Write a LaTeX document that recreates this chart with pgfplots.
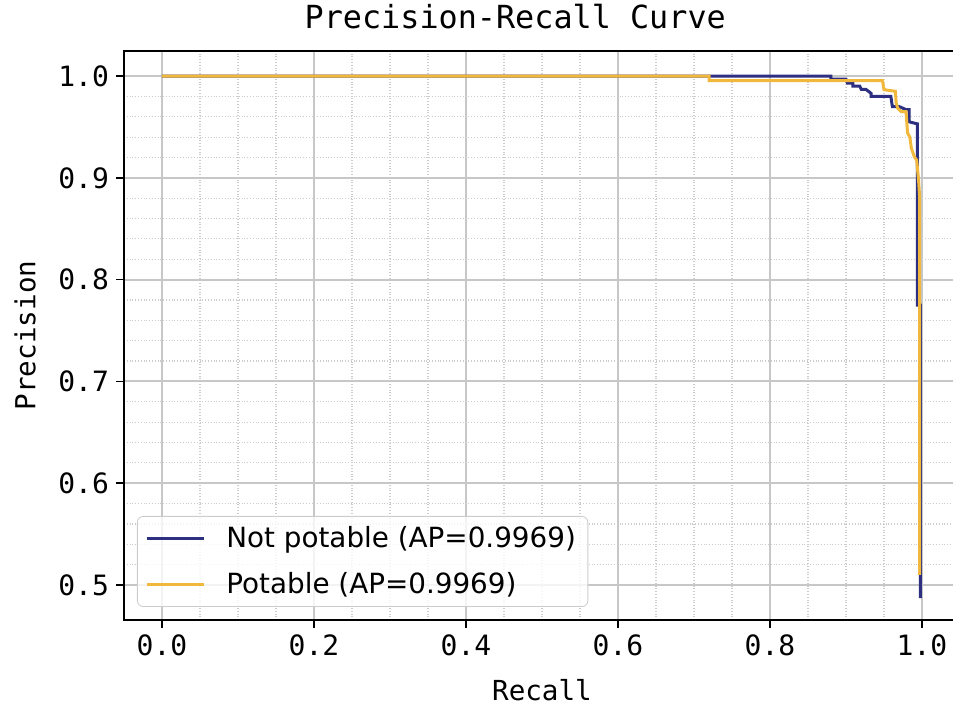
\documentclass[border=0pt]{standalone}
\usepackage{fontspec}
\setmainfont{DejaVu Sans}
\setmonofont{DejaVu Sans Mono}
\usepackage{pgfplots}
\pgfplotsset{compat=1.18}
\definecolor{notpot}{RGB}{45,48,128}
\definecolor{pot}{RGB}{240,184,60}

\begin{document}
\begin{tikzpicture}
\begin{axis}[
name=ax, scale only axis, width=418pt, height=284.5pt,
xmin=-0.05, xmax=1.05, ymin=0.4656, ymax=1.0246,
xtick={0,0.2,0.4,0.6,0.8,1.0}, ytick={0.5,0.6,0.7,0.8,0.9,1.0},
minor x tick num=3, minor y tick num=4,
grid=both,
major grid style={black!22, line width=0.9pt},
minor grid style={black!20, densely dotted, line width=0.6pt},
tick pos=left, tick align=outside,
major tick length=4pt, minor tick length=0pt,
major tick style={black, line width=0.7pt},
axis line style={line width=0.9pt},
/pgf/number format/.cd, fixed, fixed zerofill, precision=1, assume math mode=true,
/pgfplots/.cd,
tick label style={font=\fontsize{14}{16}\ttfamily},
title={Precision-Recall Curve},
title style={font=\fontsize{15.9}{18}\ttfamily, at={(0.468,1.0387)}, anchor=center},
xlabel={Recall},
xlabel style={font=\fontsize{13.8}{16}\ttfamily, at={(0.5,-0.123)}, anchor=center},
ylabel={Precision},
ylabel style={font=\fontsize{13.8}{16}\ttfamily, at={(-0.1184,0.5)}, anchor=center},
legend style={at={(0,0)}, anchor=south west, xshift=6.5pt, yshift=6.5pt,
  draw=black!20, rounded corners=3pt, fill=white, fill opacity=0.8, text opacity=1,
  font=\fontsize{13.9}{16}\selectfont, inner xsep=4pt, inner ysep=3pt, row sep=7pt},
legend cell align=left,
legend image code/.code={\draw[#1] (0pt,0pt) -- (28.5pt,0pt); \path (37pt,0pt);},
]
\addplot[notpot, line width=1.5pt] coordinates {
(0,1.0) (0.880,1.0) (0.880,0.997) (0.900,0.997) (0.902,0.993) (0.909,0.993)
(0.909,0.990) (0.918,0.990) (0.920,0.987) (0.926,0.987) (0.933,0.983) (0.933,0.980)
(0.959,0.980) (0.961,0.970) (0.970,0.970) (0.979,0.967) (0.983,0.967) (0.983,0.955)
(0.994,0.953) (0.994,0.919) (0.994,0.775) (0.998,0.775) (0.998,0.487)
};
\addlegendentry{Not potable (AP=0.9969)}
\addplot[pot, line width=1.5pt] coordinates {
(0,1.0) (0.720,1.0) (0.720,0.9955) (0.948,0.9955) (0.950,0.9866) (0.965,0.985)
(0.966,0.9735) (0.968,0.9685) (0.9725,0.965) (0.979,0.965) (0.981,0.944) (0.984,0.940)
(0.986,0.929) (0.990,0.9206) (0.993,0.9173) (0.9955,0.8975) (0.997,0.88) (0.997,0.51)
};
\addlegendentry{Potable (AP=0.9969)}
\end{axis}
\pgfresetboundingbox
\path[use as bounding box] ([shift={(-62pt,25.5pt)}]ax.north west) rectangle ([shift={(414.5pt,-45pt)}]ax.south west);
\end{tikzpicture}
\end{document}
